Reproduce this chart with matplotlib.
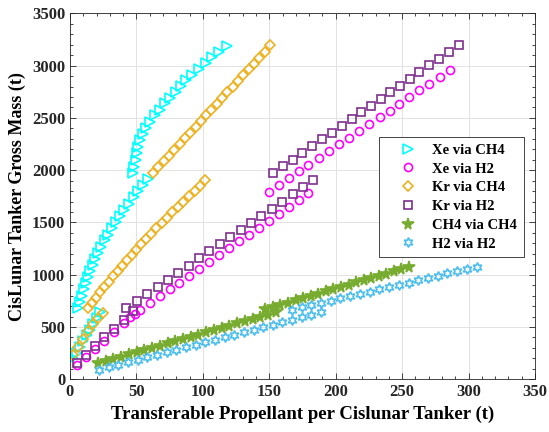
import matplotlib

matplotlib.use("Agg")
import matplotlib.pyplot as plt
from matplotlib.ticker import MultipleLocator

plt.rcParams["font.family"] = ["Liberation Serif", "DejaVu Serif"]
plt.rcParams["font.weight"] = "bold"

# Xe via CH4 (three tank-size branches)
xe_ch4_x1 = [2.5, 5.0, 7.5, 10.0, 12.5, 15.0, 17.5, 20.0, 22.5]
xe_ch4_y1 = [200, 255, 310, 365, 420, 475, 530, 585, 640]
xe_ch4_x2 = [6, 7.5, 9, 10.5, 12, 13.5, 15, 17, 19, 21, 23.5, 26, 28.5, 31.5, 34.5, 37.5, 41, 44.5, 48, 51.5, 55, 58.5]
xe_ch4_y2 = [680, 740, 800, 860, 920, 975, 1035, 1095, 1150, 1210, 1270, 1330, 1385, 1445, 1505, 1560, 1620, 1680, 1740, 1800, 1860, 1920]
xe_ch4_x3 = [47.5, 48.5, 49.5, 50.5, 51.5, 53, 55, 57.5, 60.5, 64, 67.5, 71.5, 75.5, 79.5, 83.5, 87.5, 92, 97, 102, 107, 112, 118]
xe_ch4_y3 = [1970, 2030, 2095, 2160, 2220, 2285, 2345, 2405, 2465, 2525, 2580, 2640, 2695, 2750, 2805, 2860, 2915, 2970, 3025, 3080, 3135, 3190]

# Xe via H2
xe_h2_x1 = [5.5, 12, 18.5, 25.5, 33, 41, 49]
xe_h2_y1 = [135, 210, 290, 370, 455, 540, 625]
xe_h2_x2 = [45, 52.5, 60, 67.5, 75, 82, 89.5, 97, 104.5, 112, 119.5, 127, 134.5, 142, 149.5, 157, 164.5, 172, 179.5]
xe_h2_y2 = [600, 665, 730, 795, 860, 925, 990, 1055, 1120, 1185, 1255, 1320, 1385, 1450, 1515, 1580, 1650, 1715, 1780]
xe_h2_x3 = [149.5, 157, 164.5, 172, 179.5, 187.5, 195, 202.5, 210, 217.5, 225, 233, 240.5, 248, 255.5, 263, 270.5, 278.5, 286]
xe_h2_y3 = [1794, 1859, 1923, 1988, 2053, 2117, 2182, 2247, 2311, 2376, 2441, 2505, 2570, 2635, 2700, 2764, 2829, 2893, 2958]

# Kr via CH4
kr_ch4_x1 = [2, 5.8, 9.5, 13.3, 17, 20.8, 24.5]
kr_ch4_y1 = [230, 310, 390, 465, 530, 585, 630]
kr_ch4_x2 = [13.8, 16.5, 19.5, 22.5, 25.5, 29, 32.5, 36, 39.5, 43, 46.5, 50, 53.5, 57, 61, 65, 69, 73, 77, 81, 85, 89.5, 94, 98, 101.6]
kr_ch4_y2 = [680, 731, 782, 833, 884, 935, 986, 1037, 1088, 1139, 1190, 1241, 1292, 1343, 1394, 1445, 1496, 1547, 1598, 1649, 1700, 1751, 1802, 1853, 1905]
kr_ch4_x3 = [62.7, 66.5, 70.5, 74.5, 78.5, 82.5, 86.5, 90.5, 94.5, 98.5, 102.5, 106.5, 110.5, 114.5, 118.5, 122.5, 126.5, 130.5, 134.5, 138.5, 142.5, 146.5, 150.5]
kr_ch4_y3 = [1970, 2030, 2085, 2140, 2195, 2250, 2305, 2360, 2415, 2470, 2525, 2580, 2635, 2690, 2745, 2800, 2855, 2910, 2965, 3020, 3075, 3135, 3195]

# Kr via H2
kr_h2_x1 = [5.5, 12, 18.5, 25.5, 33, 40.5, 47.5]
kr_h2_y1 = [155, 235, 315, 400, 485, 570, 650]
kr_h2_x2 = [42.5, 50.5, 58, 66, 74, 81.5, 89.5, 97, 105, 113, 120.5, 128.5, 136, 144, 152, 159.5, 167.5, 175.5, 183]
kr_h2_y2 = [680, 748, 816, 884, 952, 1020, 1088, 1156, 1224, 1292, 1360, 1428, 1496, 1564, 1632, 1700, 1768, 1836, 1905]
kr_h2_x3 = [153, 160.5, 168, 175, 182.5, 190, 197, 204.5, 212, 219, 226.5, 234, 241, 248.5, 256, 263, 270.5, 278, 285, 292.5]
kr_h2_y3 = [1972, 2036, 2101, 2165, 2230, 2294, 2359, 2423, 2487, 2552, 2616, 2681, 2745, 2809, 2874, 2938, 3003, 3067, 3132, 3196]

# CH4 via CH4
ch4_x1 = [21, 26.8, 32.7, 38.5, 44.3, 50.1, 56.0, 61.8, 67.6, 73.4, 79.3, 85.1, 90.9, 96.7, 102.6, 108.4, 114.2, 120.0, 125.9, 131.7, 137.5, 143.3, 149.2, 155.0]
ch4_y1 = [153, 174, 195, 217, 238, 259, 280, 301, 323, 344, 365, 386, 407, 428, 450, 471, 492, 513, 534, 556, 577, 598, 619, 640]
ch4_x2 = [147, 152.7, 158.4, 164.1, 169.8, 175.5, 181.2, 186.9, 192.6, 198.3, 204.0, 209.7, 215.4, 221.1, 226.8, 232.5, 238.2, 243.9, 249.5, 255]
ch4_y2 = [670, 691, 713, 734, 755, 777, 798, 819, 841, 862, 883, 905, 926, 947, 969, 990, 1011, 1032, 1054, 1075]

# H2 via H2
h2_x1 = [22, 29.3, 36.5, 43.8, 51, 58.3, 65.6, 72.8, 80.1, 87.3, 94.6, 101.9, 109.1, 116.4, 123.6, 130.9, 138.2, 145.4, 152.7, 159.9, 167.2, 174.5, 181.7, 189]
h2_y1 = [90, 114, 138, 162, 186, 210, 233, 257, 281, 305, 329, 353, 377, 401, 425, 449, 473, 497, 521, 544, 568, 592, 616, 640]
h2_x2 = [167, 174.3, 181.6, 189, 196.3, 203.6, 210.9, 218.2, 225.5, 232.9, 240.2, 247.5, 254.8, 262.1, 269.4, 276.7, 284.1, 291.4, 298.7, 306]
h2_y2 = [665, 687, 708, 730, 752, 773, 795, 817, 838, 860, 882, 903, 925, 947, 968, 990, 1012, 1034, 1055, 1077]

series = [
    ("Xe via CH4", [(xe_ch4_x1, xe_ch4_y1), (xe_ch4_x2, xe_ch4_y2), (xe_ch4_x3, xe_ch4_y3)],
     dict(marker=">", color="#00FFFF", ms=7.5, mfc="none")),
    ("Xe via H2", [(xe_h2_x1, xe_h2_y1), (xe_h2_x2, xe_h2_y2), (xe_h2_x3, xe_h2_y3)],
     dict(marker="o", color="#FF00FF", ms=5.8, mfc="none")),
    ("Kr via CH4", [(kr_ch4_x1, kr_ch4_y1), (kr_ch4_x2, kr_ch4_y2), (kr_ch4_x3, kr_ch4_y3)],
     dict(marker="D", color="#EDB120", ms=5, mfc="none")),
    ("Kr via H2", [(kr_h2_x1, kr_h2_y1), (kr_h2_x2, kr_h2_y2), (kr_h2_x3, kr_h2_y3)],
     dict(marker="s", color="#7E2F8E", ms=5.3, mfc="none")),
    ("CH4 via CH4", [(ch4_x1, ch4_y1), (ch4_x2, ch4_y2)],
     dict(marker="*", color="#77AC30", ms=8.5, mfc="#77AC30")),
    ("H2 via H2", [(h2_x1, h2_y1), (h2_x2, h2_y2)],
     dict(marker=(6, 1, 0), color="#4DBEEE", ms=7, mfc="none")),
]

fig = plt.figure(figsize=(5.49, 4.32), dpi=100)
ax = fig.add_axes([0.1275, 0.122, 0.847, 0.847])

for name, segs, st in series:
    for i, (xs, ys) in enumerate(segs):
        ax.plot(xs, ys, linestyle="none", marker=st["marker"], markersize=st["ms"],
                markeredgecolor=st["color"], markerfacecolor=st["mfc"], markeredgewidth=1.2,
                label=name if i == 0 else None)

ax.set_xlim(0, 350)
ax.set_ylim(0, 3500)
ax.xaxis.set_major_locator(MultipleLocator(50))
ax.xaxis.set_minor_locator(MultipleLocator(10))
ax.yaxis.set_major_locator(MultipleLocator(500))
ax.yaxis.set_minor_locator(MultipleLocator(100))
ax.grid(True, which="major", color="#e2e2e2", linewidth=0.7)
ax.set_axisbelow(True)
ax.tick_params(which="both", direction="in", top=True, right=True, colors="#262626",
               labelsize=12, width=0.6)
ax.tick_params(which="major", length=4)
ax.tick_params(which="minor", length=2.5)
for sp in ax.spines.values():
    sp.set_color("#262626")
    sp.set_linewidth(0.6)
for lbl in ax.get_xticklabels() + ax.get_yticklabels():
    lbl.set_fontweight("bold")

ax.set_xlabel("Transferable Propellant per Cislunar Tanker (t)", fontsize=13.5, fontweight="bold")
ax.set_ylabel("CisLunar Tanker Gross Mass (t)", fontsize=13, fontweight="bold")

leg = ax.legend(loc="upper right", bbox_to_anchor=(0.976, 0.662), borderaxespad=0,
                fontsize=10.5, fancybox=False, framealpha=1, edgecolor="#262626",
                borderpad=0.45, handletextpad=0.2, labelspacing=0.38, handlelength=3.0)
leg.get_frame().set_linewidth(0.6)
for t in leg.get_texts():
    t.set_fontweight("bold")

fig.savefig("out.png", dpi=100)
